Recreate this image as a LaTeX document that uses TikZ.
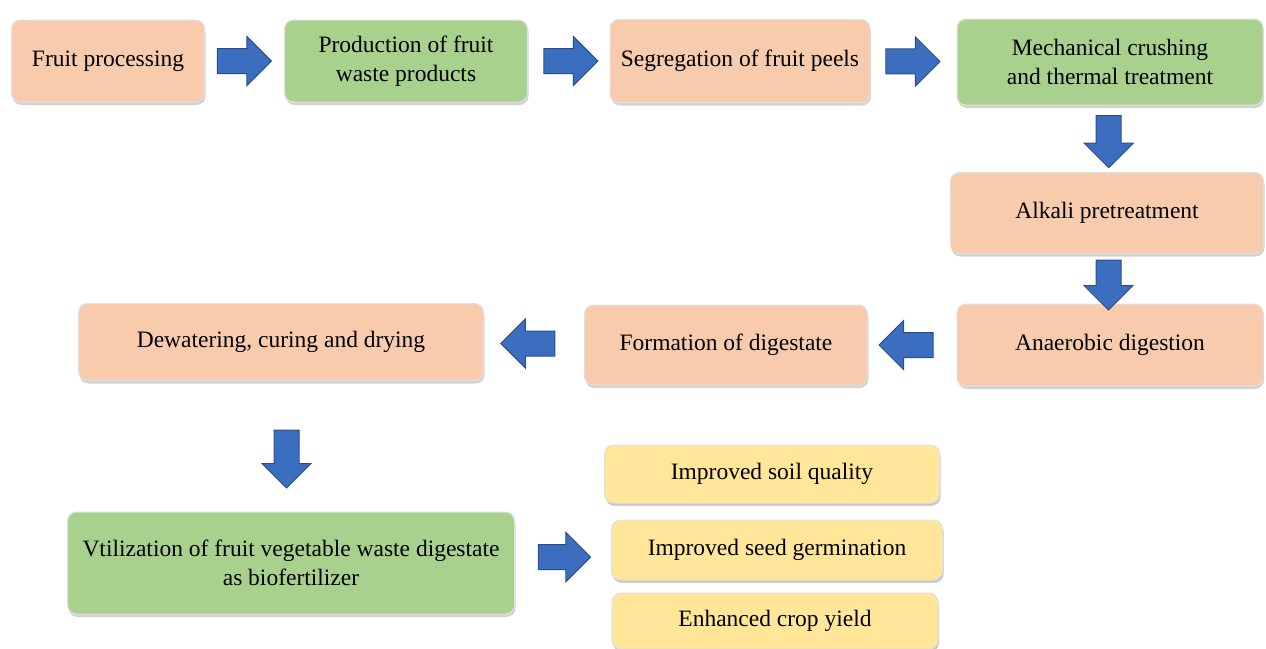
\documentclass[tikz,border=0pt]{standalone}
\usepackage{fontspec}
\setmainfont{Liberation Serif}
\usetikzlibrary{positioning,calc,shapes.arrows,shadows}
\definecolor{peach}{HTML}{F8CBAD}
\definecolor{leaf}{HTML}{A9D18E}
\definecolor{butter}{HTML}{FFE699}
\definecolor{arrowblue}{HTML}{3C6EC0}
\definecolor{arrowedge}{HTML}{2A4E8C}
\tikzset{
  box/.style={rounded corners=9pt, draw=black!12, line width=1pt, align=center,
    inner sep=0pt, font=\fontsize{23.5}{29}\selectfont,
    drop shadow={opacity=0.35, shadow xshift=1pt, shadow yshift=-3pt}},
  peachbox/.style={box, fill=peach},
  greenbox/.style={box, fill=leaf},
  yellowbox/.style={box, fill=butter, drop shadow={opacity=0.15, shadow xshift=1pt, shadow yshift=-2pt}},
  blockarrow/.style={single arrow, draw=arrowedge, fill=arrowblue, line width=1pt,
    minimum height=54pt, minimum width=48pt, single arrow head extend=12pt,
    single arrow head indent=0pt, inner sep=12pt}
}

\begin{document}
\begin{tikzpicture}[x=1pt,y=-1pt]
    \useasboundingbox (0,0) rectangle (1266,648);
    % set up the nodes
    \node[peachbox, minimum width=193pt, minimum height=82pt] (fruit) at (108,61) {Fruit processing};
    \node[greenbox, minimum width=243pt, minimum height=82pt] (prod) at (406,61) {Production of fruit\\waste products};
    \node[peachbox, minimum width=260pt, minimum height=83pt] (seg) at (740,61) {Segregation of fruit peels};
    \node[greenbox, minimum width=306pt, minimum height=86pt] (mech) at (1110,62) {Mechanical crushing\\and thermal treatment};
    \node[peachbox, minimum width=313pt, minimum height=81pt] (alkali) at (1107,213) {Alkali pretreatment};
    \node[peachbox, minimum width=306pt, minimum height=82pt] (anaer) at (1110,345) {Anaerobic digestion};
    \node[peachbox, minimum width=283pt, minimum height=80pt] (form) at (726,345) {Formation of digestate};
    \node[peachbox, minimum width=405pt, minimum height=77pt] (dewat) at (281,342) {Dewatering, curing and drying};
    \node[greenbox, minimum width=447pt, minimum height=102pt] (util) at (291,563) {Vtilization of fruit vegetable waste digestate\\as biofertilizer};
    \node[yellowbox, minimum width=335pt, minimum height=58pt] (soil) at (772,474) {Improved soil quality};
    \node[yellowbox, minimum width=331pt, minimum height=60pt] (seed) at (777,550) {Improved seed germination};
    \node[yellowbox, minimum width=326pt, minimum height=56pt] (crop) at (775,621) {Enhanced crop yield};
    % draw arrows between them
    \node[blockarrow] (a1) at ($(fruit.east)!0.42!(prod.west)$) {};
    \node[blockarrow] (a2) at ($(prod.east)!0.45!(seg.west)$) {};
    \node[blockarrow] (a3) at ($(seg.east)!0.42!(mech.west)$) {};
    \node[blockarrow, shape border rotate=270, minimum height=52pt] (a4) at ($(mech.south)!0.45!(alkali.north)$) {};
    \node[blockarrow, shape border rotate=270, minimum height=50pt] (a5) at ($(alkali.south)!0.5!(anaer.north)$) {};
    \node[blockarrow, shape border rotate=180] (a6) at ($(anaer.west)!0.5!(form.east)$) {};
    \node[blockarrow, shape border rotate=180] (a7) at ($(form.west)!0.5!(dewat.east)$) {};
    \node[blockarrow, shape border rotate=270, minimum height=58pt] (a8) at ($(dewat.south)!0.55!(util.north)$) {};
    \node[blockarrow, minimum height=52pt] (a9) at ($(util.east)!0.45!(seed.west)$) {};
\end{tikzpicture}
\end{document}
